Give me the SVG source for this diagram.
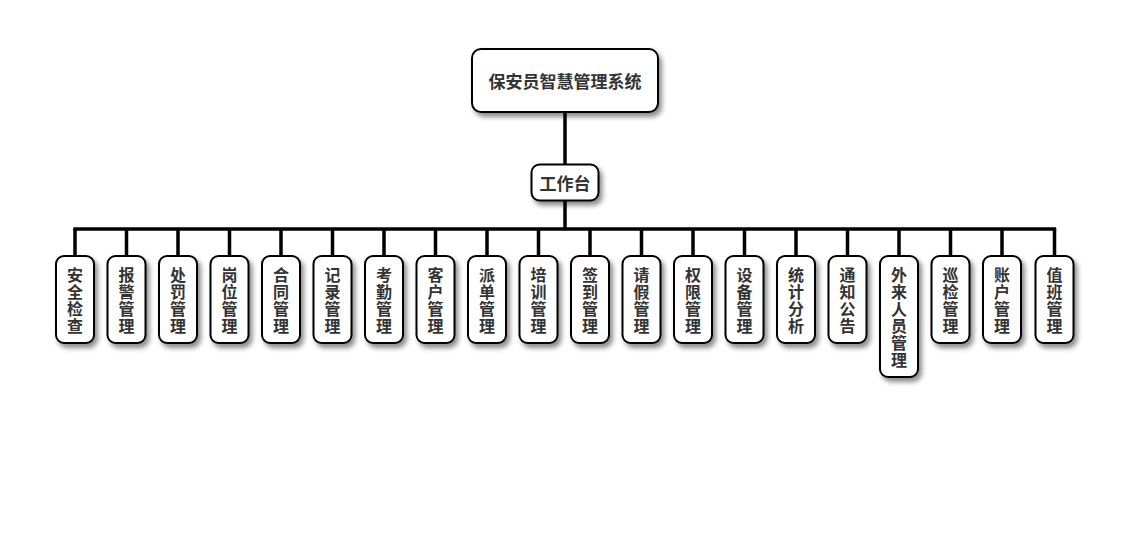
<svg xmlns="http://www.w3.org/2000/svg" width="1130" height="560" viewBox="0 0 1130 560">
<defs>
<filter id="sh" x="-30%" y="-30%" width="160%" height="160%">
<feDropShadow dx="3" dy="4" stdDeviation="2.5" flood-color="#000" flood-opacity="0.45"/>
</filter>
<style>
.box{fill:#fff;stroke:#000;stroke-width:2;filter:url(#sh)}
.t{font-family:"Noto Sans CJK SC","Noto Sans",sans-serif;font-weight:bold;fill:#333;text-anchor:middle;dominant-baseline:central}
.tl{font-size:16px}
.tr{font-size:17px}
.c{stroke:#000;stroke-width:3.5;fill:none}
</style>
</defs>
<rect width="1130" height="560" fill="#fff"/>
<g id="connectors">
<line class="c" x1="565" y1="112" x2="565" y2="165"/>
<line class="c" x1="565" y1="200" x2="565" y2="229"/>
<line class="c" x1="73.3" y1="229" x2="1056.2" y2="229"/>
<path class="c" d="M75,229V257M126.5,229V257M178,229V257M229.5,229V257M281,229V257M332.5,229V257M384,229V257M435.5,229V257M487,229V257M538.5,229V257M590,229V257M641.5,229V257M693,229V257M744.5,229V257M796,229V257M847.5,229V257M899,229V257M950.5,229V257M1002,229V257M1054.5,229V257"/>
</g>
<g id="root"><rect class="box" x="472" y="49" width="186" height="63" rx="9"/><text class="t tr" x="565" y="80.5">保安员智慧管理系统</text></g>
<g id="gzt"><rect class="box" x="531.5" y="164.5" width="67" height="36" rx="8"/><text class="t tr" x="565" y="182.5">工作台</text></g>
<g id="n1"><rect class="box" x="56" y="256" width="38" height="87" rx="8"/><text class="t tl" x="75" y="273.5">安<tspan x="75" dy="17">全</tspan><tspan x="75" dy="17">检</tspan><tspan x="75" dy="17">查</tspan></text></g>
<g id="n2"><rect class="box" x="107.5" y="256" width="38" height="87" rx="8"/><text class="t tl" x="126.5" y="273.5">报<tspan x="126.5" dy="17">警</tspan><tspan x="126.5" dy="17">管</tspan><tspan x="126.5" dy="17">理</tspan></text></g>
<g id="n3"><rect class="box" x="159" y="256" width="38" height="87" rx="8"/><text class="t tl" x="178" y="273.5">处<tspan x="178" dy="17">罚</tspan><tspan x="178" dy="17">管</tspan><tspan x="178" dy="17">理</tspan></text></g>
<g id="n4"><rect class="box" x="210.5" y="256" width="38" height="87" rx="8"/><text class="t tl" x="229.5" y="273.5">岗<tspan x="229.5" dy="17">位</tspan><tspan x="229.5" dy="17">管</tspan><tspan x="229.5" dy="17">理</tspan></text></g>
<g id="n5"><rect class="box" x="262" y="256" width="38" height="87" rx="8"/><text class="t tl" x="281" y="273.5">合<tspan x="281" dy="17">同</tspan><tspan x="281" dy="17">管</tspan><tspan x="281" dy="17">理</tspan></text></g>
<g id="n6"><rect class="box" x="313.5" y="256" width="38" height="87" rx="8"/><text class="t tl" x="332.5" y="273.5">记<tspan x="332.5" dy="17">录</tspan><tspan x="332.5" dy="17">管</tspan><tspan x="332.5" dy="17">理</tspan></text></g>
<g id="n7"><rect class="box" x="365" y="256" width="38" height="87" rx="8"/><text class="t tl" x="384" y="273.5">考<tspan x="384" dy="17">勤</tspan><tspan x="384" dy="17">管</tspan><tspan x="384" dy="17">理</tspan></text></g>
<g id="n8"><rect class="box" x="416.5" y="256" width="38" height="87" rx="8"/><text class="t tl" x="435.5" y="273.5">客<tspan x="435.5" dy="17">户</tspan><tspan x="435.5" dy="17">管</tspan><tspan x="435.5" dy="17">理</tspan></text></g>
<g id="n9"><rect class="box" x="468" y="256" width="38" height="87" rx="8"/><text class="t tl" x="487" y="273.5">派<tspan x="487" dy="17">单</tspan><tspan x="487" dy="17">管</tspan><tspan x="487" dy="17">理</tspan></text></g>
<g id="n10"><rect class="box" x="519.5" y="256" width="38" height="87" rx="8"/><text class="t tl" x="538.5" y="273.5">培<tspan x="538.5" dy="17">训</tspan><tspan x="538.5" dy="17">管</tspan><tspan x="538.5" dy="17">理</tspan></text></g>
<g id="n11"><rect class="box" x="571" y="256" width="38" height="87" rx="8"/><text class="t tl" x="590" y="273.5">签<tspan x="590" dy="17">到</tspan><tspan x="590" dy="17">管</tspan><tspan x="590" dy="17">理</tspan></text></g>
<g id="n12"><rect class="box" x="622.5" y="256" width="38" height="87" rx="8"/><text class="t tl" x="641.5" y="273.5">请<tspan x="641.5" dy="17">假</tspan><tspan x="641.5" dy="17">管</tspan><tspan x="641.5" dy="17">理</tspan></text></g>
<g id="n13"><rect class="box" x="674" y="256" width="38" height="87" rx="8"/><text class="t tl" x="693" y="273.5">权<tspan x="693" dy="17">限</tspan><tspan x="693" dy="17">管</tspan><tspan x="693" dy="17">理</tspan></text></g>
<g id="n14"><rect class="box" x="725.5" y="256" width="38" height="87" rx="8"/><text class="t tl" x="744.5" y="273.5">设<tspan x="744.5" dy="17">备</tspan><tspan x="744.5" dy="17">管</tspan><tspan x="744.5" dy="17">理</tspan></text></g>
<g id="n15"><rect class="box" x="777" y="256" width="38" height="87" rx="8"/><text class="t tl" x="796" y="273.5">统<tspan x="796" dy="17">计</tspan><tspan x="796" dy="17">分</tspan><tspan x="796" dy="17">析</tspan></text></g>
<g id="n16"><rect class="box" x="828.5" y="256" width="38" height="87" rx="8"/><text class="t tl" x="847.5" y="273.5">通<tspan x="847.5" dy="17">知</tspan><tspan x="847.5" dy="17">公</tspan><tspan x="847.5" dy="17">告</tspan></text></g>
<g id="n17"><rect class="box" x="880" y="256" width="38" height="121" rx="8"/><text class="t tl" x="899" y="273.5">外<tspan x="899" dy="17">来</tspan><tspan x="899" dy="17">人</tspan><tspan x="899" dy="17">员</tspan><tspan x="899" dy="17">管</tspan><tspan x="899" dy="17">理</tspan></text></g>
<g id="n18"><rect class="box" x="931.5" y="256" width="38" height="87" rx="8"/><text class="t tl" x="950.5" y="273.5">巡<tspan x="950.5" dy="17">检</tspan><tspan x="950.5" dy="17">管</tspan><tspan x="950.5" dy="17">理</tspan></text></g>
<g id="n19"><rect class="box" x="983" y="256" width="38" height="87" rx="8"/><text class="t tl" x="1002" y="273.5">账<tspan x="1002" dy="17">户</tspan><tspan x="1002" dy="17">管</tspan><tspan x="1002" dy="17">理</tspan></text></g>
<g id="n20"><rect class="box" x="1035.5" y="256" width="38" height="87" rx="8"/><text class="t tl" x="1054.5" y="273.5">值<tspan x="1054.5" dy="17">班</tspan><tspan x="1054.5" dy="17">管</tspan><tspan x="1054.5" dy="17">理</tspan></text></g>
</svg>
